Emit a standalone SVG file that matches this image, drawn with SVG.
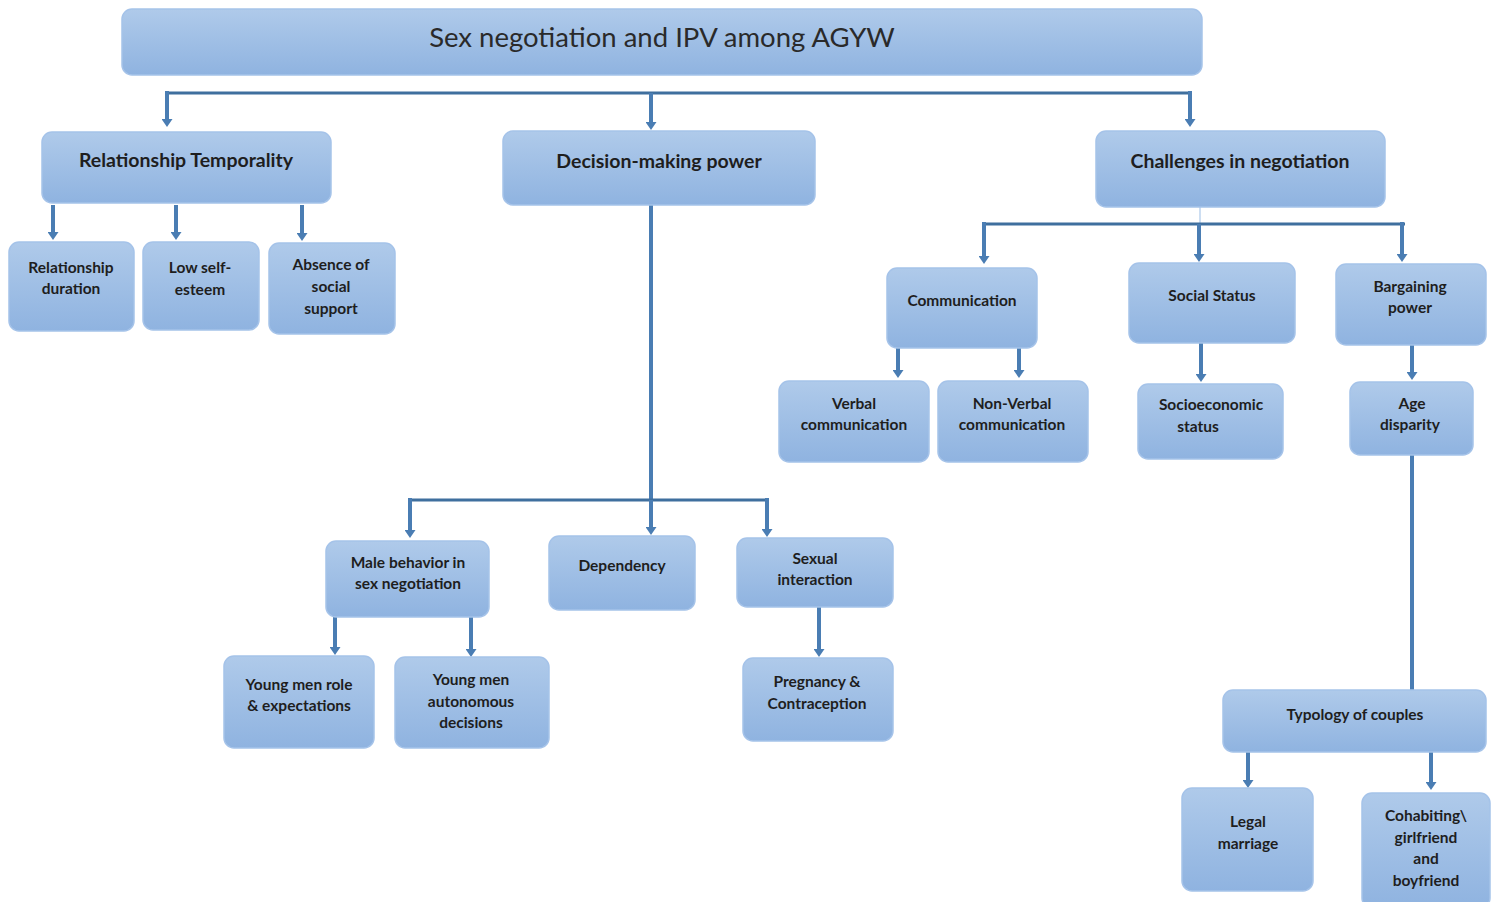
<svg xmlns="http://www.w3.org/2000/svg" width="1499" height="902" viewBox="0 0 1499 902">
<defs>
<linearGradient id="g" x1="0" y1="0" x2="0" y2="1">
<stop offset="0" stop-color="#afcaea"/>
<stop offset="1" stop-color="#8fb3e0"/>
</linearGradient>
<marker id="ah" markerWidth="8" markerHeight="11" refX="2" refY="5.5" orient="auto" markerUnits="userSpaceOnUse" viewBox="0 0 8 11">
<path d="M0,0 L8,5.5 L0,11 Z" fill="#4a7db3"/>
</marker>
<style>
.n rect{fill:url(#g);stroke:#a5c3e9;stroke-width:1.5}
.n text{font-family:Lato,"Open Sans",sans-serif;font-weight:700;fill:#1e1e1e;text-anchor:middle}
.t text{font-family:Lato,"Open Sans",sans-serif;font-weight:400;fill:#2a2a2a;text-anchor:middle;font-size:27.5px}
.l1{font-size:19.5px}
.l2{font-size:15.5px}
.c path{fill:none;stroke:#4a7db3;stroke-width:4}
.c .h{stroke:#3f6f9e;stroke-width:3}
.c .a{marker-end:url(#ah)}
.c .thin{stroke:#bcd3ee;stroke-width:1.5}
</style>
</defs>
<rect width="1499" height="902" fill="#ffffff"/>
<g id="connectors" class="c">
<path class="h" d="M166,93 H1191"/>
<path class="a" d="M167,91 V121"/>
<path class="a" d="M651,93 V124"/>
<path class="a" d="M1190,91 V121"/>
<path class="a" d="M53,205 V234"/>
<path class="a" d="M176,205 V234"/>
<path class="a" d="M302,205 V235"/>
<path d="M651,205 V500"/>
<path class="h" d="M410,500 H768"/>
<path class="a" d="M410,498 V532"/>
<path class="a" d="M651,500 V529"/>
<path class="a" d="M767,498 V531"/>
<path class="a" d="M335,617 V649"/>
<path class="a" d="M471,617 V651"/>
<path class="a" d="M819,607 V651"/>
<path class="thin" d="M1200,207 V224"/>
<path class="h" d="M983,224 H1405"/>
<path class="a" d="M984,222 V258"/>
<path class="a" d="M1199,224 V256"/>
<path class="a" d="M1402,222 V256"/>
<path class="a" d="M898,348 V372"/>
<path class="a" d="M1019,348 V372"/>
<path class="a" d="M1201,343 V376"/>
<path class="a" d="M1412,345 V374"/>
<path d="M1412,455 V690"/>
<path class="a" d="M1248,752 V782"/>
<path class="a" d="M1431,752 V784"/>
</g>
<g id="title" class="n t"><rect x="122" y="9" width="1080" height="66" rx="10"/><text x="662" y="47">Sex negotiation and IPV among AGYW</text></g>
<g id="rt" class="n"><rect x="42" y="132" width="289" height="71" rx="10"/><text class="l1" x="186" y="167">Relationship Temporality</text></g>
<g id="dmp" class="n"><rect x="503" y="131" width="312" height="74" rx="10"/><text class="l1" x="659" y="168">Decision-making power</text></g>
<g id="cin" class="n"><rect x="1096" y="131" width="289" height="76" rx="10"/><text class="l1" x="1240" y="168">Challenges in negotiation</text></g>
<g id="rd" class="n"><rect x="9" y="242" width="125" height="89" rx="10"/><text class="l2" x="71" y="273">Relationship</text><text class="l2" x="71" y="294">duration</text></g>
<g id="lse" class="n"><rect x="143" y="242" width="116" height="88" rx="10"/><text class="l2" x="200" y="273">Low self-</text><text class="l2" x="200" y="295">esteem</text></g>
<g id="ass" class="n"><rect x="269" y="243" width="126" height="91" rx="10"/><text class="l2" x="331" y="270">Absence of</text><text class="l2" x="331" y="292">social</text><text class="l2" x="331" y="314">support</text></g>
<g id="mb" class="n"><rect x="326" y="541" width="163" height="76" rx="10"/><text class="l2" x="408" y="568">Male behavior in</text><text class="l2" x="408" y="589">sex negotiation</text></g>
<g id="dep" class="n"><rect x="549" y="536" width="146" height="74" rx="10"/><text class="l2" x="622" y="571">Dependency</text></g>
<g id="si" class="n"><rect x="737" y="538" width="156" height="69" rx="10"/><text class="l2" x="815" y="564">Sexual</text><text class="l2" x="815" y="585">interaction</text></g>
<g id="ymr" class="n"><rect x="224" y="656" width="150" height="92" rx="10"/><text class="l2" x="299" y="690">Young men role</text><text class="l2" x="299" y="711">&amp; expectations</text></g>
<g id="yma" class="n"><rect x="395" y="657" width="154" height="91" rx="10"/><text class="l2" x="471" y="685">Young men</text><text class="l2" x="471" y="707">autonomous</text><text class="l2" x="471" y="728">decisions</text></g>
<g id="pc" class="n"><rect x="743" y="658" width="150" height="83" rx="10"/><text class="l2" x="817" y="687">Pregnancy &amp;</text><text class="l2" x="817" y="709">Contraception</text></g>
<g id="com" class="n"><rect x="887" y="268" width="150" height="80" rx="10"/><text class="l2" x="962" y="306">Communication</text></g>
<g id="ss" class="n"><rect x="1129" y="263" width="166" height="80" rx="10"/><text class="l2" x="1212" y="301">Social Status</text></g>
<g id="bp" class="n"><rect x="1336" y="264" width="150" height="81" rx="10"/><text class="l2" x="1410" y="292">Bargaining</text><text class="l2" x="1410" y="313">power</text></g>
<g id="vc" class="n"><rect x="779" y="381" width="150" height="81" rx="10"/><text class="l2" x="854" y="409">Verbal</text><text class="l2" x="854" y="430">communication</text></g>
<g id="nvc" class="n"><rect x="938" y="381" width="150" height="81" rx="10"/><text class="l2" x="1012" y="409">Non-Verbal</text><text class="l2" x="1012" y="430">communication</text></g>
<g id="ses" class="n"><rect x="1138" y="384" width="145" height="75" rx="10"/><text class="l2" x="1211" y="410">Socioeconomic</text><text class="l2" x="1198" y="432">status</text></g>
<g id="ad" class="n"><rect x="1350" y="382" width="123" height="73" rx="10"/><text class="l2" x="1412" y="409">Age</text><text class="l2" x="1410" y="430">disparity</text></g>
<g id="toc" class="n"><rect x="1223" y="690" width="263" height="62" rx="10"/><text class="l2" x="1355" y="720">Typology of couples</text></g>
<g id="lm" class="n"><rect x="1182" y="788" width="131" height="103" rx="10"/><text class="l2" x="1248" y="827">Legal</text><text class="l2" x="1248" y="849">marriage</text></g>
<g id="cgb" class="n"><rect x="1362" y="793" width="128" height="115" rx="10"/><text class="l2" x="1426" y="821">Cohabiting\</text><text class="l2" x="1426" y="843">girlfriend</text><text class="l2" x="1426" y="864">and</text><text class="l2" x="1426" y="886">boyfriend</text></g>
</svg>
